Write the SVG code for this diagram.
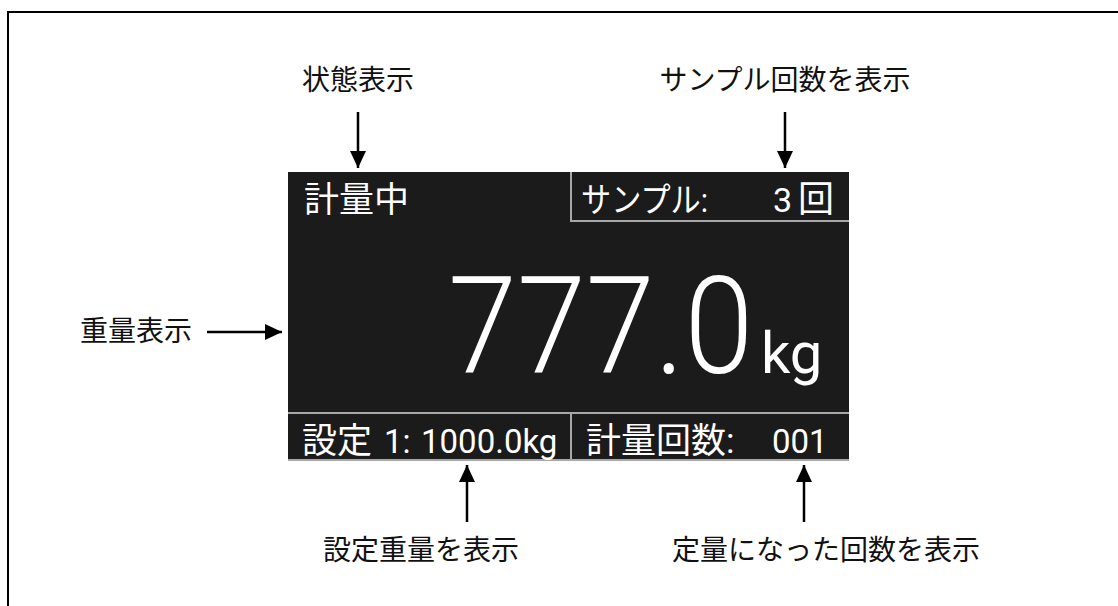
<svg xmlns="http://www.w3.org/2000/svg" width="1118" height="606" viewBox="0 0 1118 606">
<defs>
<marker id="ah" markerUnits="userSpaceOnUse" markerWidth="18" markerHeight="16" refX="17" refY="8" orient="auto">
<path d="M0,0 L17,8 L0,16 Z" fill="#000"/>
</marker>
<style>
.lbl{font-family:"Noto Sans CJK JP",sans-serif;font-size:28px;fill:#111}
.pt{font-family:Roboto,"Noto Sans CJK JP",sans-serif;fill:#fff}
.sep{stroke:#a8a8a8;stroke-width:2;fill:none}
.con{stroke:#000;stroke-width:2.5;fill:none;marker-end:url(#ah)}
</style>
</defs>
<rect width="1118" height="606" fill="#fff"/>
<rect x="8" y="12" width="1200" height="700" fill="none" stroke="#000" stroke-width="2"/>
<g id="panel">
<rect x="288" y="172" width="561" height="289" fill="#1b1b1b"/>
<path class="sep" d="M571,172 V221 H849"/>
<path class="sep" d="M288,413 H849 M571,413 V461 M288,460 H849"/>
</g>
<g id="status"><text class="pt" x="304" y="212" font-size="35">計量中</text></g>
<g id="sample"><text class="pt" x="581" y="212" font-size="34" textLength="127" lengthAdjust="spacingAndGlyphs">サンプル:</text><text class="pt" x="773" y="212" font-size="34">3</text><text class="pt" x="798" y="212" font-size="36">回</text></g>
<g id="weight"><text class="pt" transform="translate(448,373) scale(0.92,1)" x="0" y="0" font-size="135" font-weight="300">777.0</text><text class="pt" x="761" y="373" font-size="58">kg</text></g>
<g id="setting"><text class="pt" x="302" y="453" font-size="35">設定</text><text class="pt" x="384" y="453" font-size="33">1:</text><text class="pt" x="421" y="453" font-size="33">1000.0kg</text></g>
<g id="count"><text class="pt" x="586" y="453" font-size="35">計量回数:</text><text class="pt" x="772" y="453" font-size="33">001</text></g>
<g id="lbl-status"><text class="lbl" x="358" y="90" text-anchor="middle">状態表示</text></g>
<g id="lbl-sample"><text class="lbl" x="785" y="90" text-anchor="middle" font-size="29">サンプル回数を表示</text></g>
<g id="lbl-weight"><text class="lbl" x="80" y="341" font-size="28.5">重量表示</text></g>
<g id="lbl-setting"><text class="lbl" x="421" y="560" text-anchor="middle">設定重量を表示</text></g>
<g id="lbl-count"><text class="lbl" x="826" y="560" text-anchor="middle" font-size="29">定量になった回数を表示</text></g>
<g id="connectors">
<line class="con" x1="358" y1="112" x2="358" y2="168"/>
<line class="con" x1="785" y1="112" x2="785" y2="168"/>
<line class="con" x1="207" y1="332" x2="282" y2="332"/>
<line class="con" x1="467" y1="522" x2="467" y2="465"/>
<line class="con" x1="804" y1="522" x2="804" y2="465"/>
</g>
</svg>
